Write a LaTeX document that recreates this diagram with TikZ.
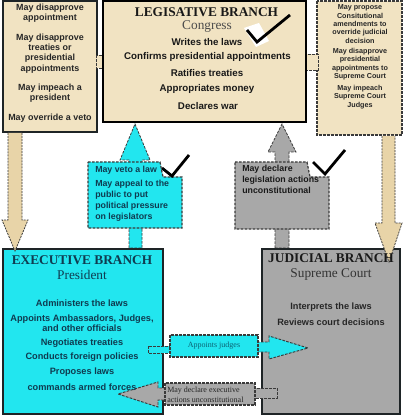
\documentclass[tikz,border=0pt]{standalone}
\usepackage{fontspec}
\setmainfont{Liberation Sans}
\newfontfamily\serifface{Liberation Serif}
\definecolor{tanbg}{HTML}{F1E3C2}
\definecolor{tanarrow}{HTML}{E8D4A8}
\definecolor{cyanfill}{HTML}{22E6EF}
\definecolor{grayfill}{HTML}{A8A8A8}
\definecolor{exectext}{HTML}{0F3B50}
\definecolor{edgedark}{HTML}{1E2426}
\definecolor{dashdark}{HTML}{3A3A3A}
\tikzset{
  lefttxt/.style={font=\fontsize{6.7}{7.6}\selectfont\bfseries, align=center, inner sep=0pt, text=black!85},
  righttxt/.style={font=\fontsize{5.4}{6.3}\selectfont\bfseries, align=center, inner sep=0pt, text=black!85},
  legtxt/.style={font=\fontsize{7.3}{8.6}\selectfont\bfseries, inner sep=0pt, text=black!90},
  exectxt/.style={font=\fontsize{6.9}{7.6}\selectfont\bfseries, align=center, inner sep=0pt, text=exectext},
  boxtxt/.style={font=\fontsize{6.6}{8.1}\selectfont\bfseries, align=left, inner sep=0pt, anchor=north west},
  headtxt/.style={font=\serifface\fontsize{10}{11}\selectfont\bfseries, inner sep=0pt},
  subtxt/.style={font=\serifface\fontsize{10}{11}\selectfont, inner sep=0pt},
  smallserif/.style={font=\serifface\fontsize{6}{7.4}\selectfont, inner sep=0pt, align=left},
  tanarr/.style={fill=tanarrow, draw=dashdark, line width=0.6pt, dash pattern=on 1.5pt off 0.8pt},
  dashbox/.style={draw=dashdark, line width=0.9pt, dash pattern=on 2pt off 1pt},
  checkmark/.style={draw=black, line width=2.1pt},
}
\begin{document}
\begin{tikzpicture}[x=0.75pt,y=-0.75pt]
\useasboundingbox (0,0) rectangle (404,416);
\fill[white] (0,0) rectangle (404,416);

% side boxes and legislative box
\draw[fill=tanbg, draw=edgedark, line width=0.9pt] (3,1) rectangle (97,132);
\draw[fill=tanbg, dashbox] (317,1) rectangle (402,135);
\draw[fill=tanbg, dashbox, line width=0.7pt] (96,55) rectangle (104,68);
\draw[fill=tanbg, dashbox, line width=0.7pt] (305,54) rectangle (318,70);
\draw[fill=tanbg, draw=black, line width=1.6pt] (103,1) rectangle (306,122);

% upward block arrows
\draw[fill=cyanfill, dashbox, line width=0.6pt] (129,248) -- (129,160) -- (120,160) -- (135,124) -- (150,160) -- (142,160) -- (142,248) -- cycle;
\draw[fill=grayfill, dashbox, line width=0.6pt] (275,248) -- (275,152) -- (268,152) -- (282,124) -- (296,152) -- (289,152) -- (289,248) -- cycle;

% dashed boxes with notches
\draw[fill=cyanfill, dashbox] (88,162) -- (160,162) -- (163,177) -- (182,177) -- (182,228) -- (88,228) -- cycle;
\draw[fill=grayfill, dashbox] (235,162) -- (307,162) -- (310,177) -- (329,177) -- (329,229) -- (235,229) -- cycle;

% executive and judicial boxes
\draw[fill=cyanfill, draw=edgedark, line width=1.9pt] (3,249) rectangle (163,414);
\draw[fill=grayfill, draw=edgedark, line width=1.9pt] (262,249) rectangle (400,414);

% downward tan arrows
\draw[tanarr] (8,133) -- (8,220) -- (2,220) -- (15,251) -- (28,220) -- (22,220) -- (22,133);
\draw[tanarr] (382,136) -- (382,223) -- (375,223) -- (389,262) -- (402,223) -- (395,223) -- (395,136);

% appoints judges arrow
\draw[fill=cyanfill, dashbox, line width=0.7pt] (148,346) rectangle (171,353);
\draw[fill=cyanfill, dashbox, line width=0.7pt] (257,342) -- (269,342) -- (269,336) -- (308,348) -- (269,359) -- (269,352) -- (257,352) -- cycle;
\draw[fill=cyanfill, dashbox] (170,335) rectangle (258,357);

% declare executive arrow
\draw[fill=grayfill, dashbox, line width=0.7pt] (254,388) rectangle (277,398);
\draw[fill=grayfill, dashbox, line width=0.7pt] (166,388) -- (158,388) -- (158,382) -- (118,394) -- (158,407) -- (158,400) -- (166,400) -- cycle;
\draw[fill=grayfill, dashbox] (165,383) rectangle (255,405);

% left box texts
\node[lefttxt] (l1) at (50,13) {May disapprove\\appointment};
\node[lefttxt] (l2) at (50,53.5) {May disapprove\\treaties or\\presidential\\appointments};
\node[lefttxt] (l3) at (50,93) {May impeach a\\president};
\node[lefttxt] (l4) at (50,118) {May override a veto};

% right box texts
\node[righttxt] (r1) at (360,24) {May propose\\Consitutional\\amendments to\\override judicial\\decision};
\node[righttxt] (r2) at (360,64) {May disapprove\\presidential\\appointments to\\Supreme Court};
\node[righttxt] (r3) at (360,97) {May impeach\\Supreme Court\\Judges};

% legislative texts
\node[headtxt, text=black!90] (lgh) at (206.5,12) {LEGISATIVE BRANCH};
\node[subtxt, text=black!70] (lgs) at (207,27) {Congress};
\fill[white] (244,28) -- (259,23) -- (269,41) -- (256,47) -- cycle;
\node[legtxt] (lg1) at (207,42) {Writes the laws};
\node[legtxt] (lg2) at (207.5,57) {Confirms presidential appointments};
\node[legtxt] (lg3) at (207,73) {Ratifies treaties};
\node[legtxt] (lg4) at (207,89) {Appropriates money};
\node[legtxt] (lg5) at (208,106) {Declares war};
\draw[checkmark] (247,30) -- (257,42) -- (290,15);

% cyan box texts
\node[boxtxt, text=exectext] (c1) at (95,166) {May veto a law};
\node[boxtxt, text=exectext] (c2) at (95,180) {May appeal to the\\public to put\\political pressure\\on legislators};
\draw[checkmark] (162,168) -- (172,176) -- (189,155);

% gray box texts
\node[boxtxt, text=black!90] (g1) at (242,165) {May declare\\legislation actions\\unconstitutional};
\draw[checkmark] (313,162) -- (325,174) -- (345,150);

% executive texts
\node[headtxt, text=exectext] (exh) at (82,260) {EXECUTIVE BRANCH};
\node[subtxt, text=exectext] (exs) at (82,275) {President};
\node[exectxt] (e1) at (82,303) {Administers the laws};
\node[exectxt] (e2) at (82,323) {Appoints Ambassadors, Judges,\\and other officials};
\node[exectxt] (e3) at (82,343) {Negotiates treaties};
\node[exectxt] (e4) at (82,357) {Conducts foreign policies};
\node[exectxt] (e5) at (82,372) {Proposes laws};
\node[exectxt] (e6) at (82,387) {commands armed forces};

% judicial texts
\node[headtxt, text=black!90] (jh) at (331,258) {JUDICIAL BRANCH};
\node[subtxt, text=black!80] (js) at (331,275) {Supreme Court};
\node[exectxt, text=black!85] (j1) at (331,307) {Interprets the laws};
\node[exectxt, text=black!85] (j2) at (331,322) {Reviews court decisions};

% small arrow labels
\node[smallserif, text=exectext!80!cyan, anchor=center] (aj) at (214,346) {Appoints judges};
\node[smallserif, text=black!85, anchor=west] (de) at (167,394.5) {May declare executive\\actions unconstitutional};
\end{tikzpicture}
\end{document}
